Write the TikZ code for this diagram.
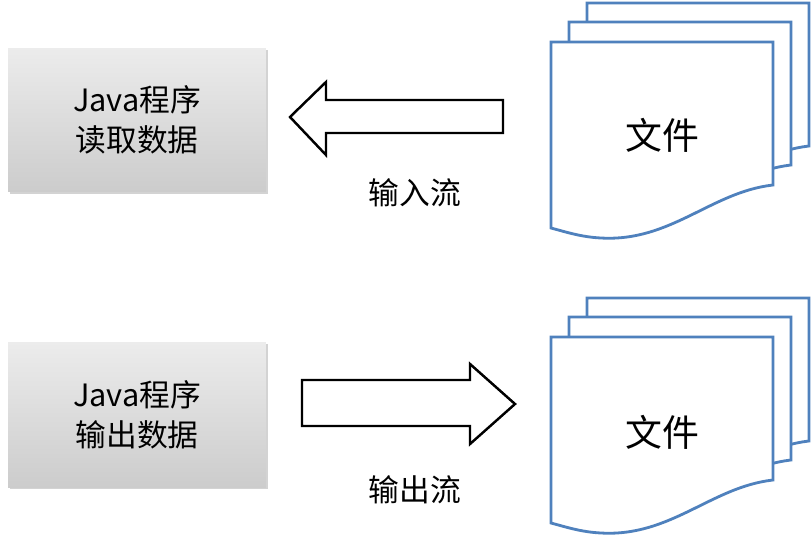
\documentclass[tikz,border=0pt]{standalone}
\usepackage{fontspec}
\setmainfont{Noto Sans CJK SC}
\usetikzlibrary{shadows}
\definecolor{docblue}{RGB}{79,129,189}
\begin{document}
\begin{tikzpicture}[x=0.02cm,y=-0.02cm,
  box/.style={draw=none,top color=gray!15,bottom color=gray!40,drop shadow={opacity=0.35,shadow xshift=1pt,shadow yshift=-1pt}},
  lbl/.style={font=\fontsize{17.5}{23}\selectfont},
  doctxt/.style={font=\fontsize{21}{24}\selectfont},
  page/.style={draw=docblue,line width=1.6pt,fill=white},
  arr/.style={draw=black,line width=1.4pt,fill=white}]
\useasboundingbox (0,0) rectangle (812,535);
\newcommand{\docpage}[2]{%
  \path[page] (#1,#2) -- (#1+222,#2) -- (#1+222,#2+143)
    .. controls (#1+160,#2+150) and (#1+120,#2+200) .. (#1+50,#2+196)
    .. controls (#1+30,#2+195) and (#1+15,#2+190) .. (#1,#2+186) -- cycle;}
\newcommand{\docstack}[2]{%
  \docpage{#1+36}{#2-39}
  \docpage{#1+18}{#2-20}
  \docpage{#1}{#2}}
\node[box,minimum width=5.16cm,minimum height=2.88cm] (p1) at (137,120) {};
\node[lbl,align=center] (t1) at (137,120) {Java程序\\读取数据};
\node[box,minimum width=5.16cm,minimum height=2.9cm] (p2) at (137,415) {};
\node[lbl,align=center] (t2) at (137,415) {Java程序\\输出数据};
\path[arr] (503,100) -- (326,100) -- (326,82) -- (290,117) -- (326,155) -- (326,133) -- (503,133) -- cycle;
\path[arr] (302,380) -- (470,380) -- (470,364) -- (515,404) -- (470,444) -- (470,426) -- (302,426) -- cycle;
\node[lbl] (l1) at (415,193) {输入流};
\node[lbl] (l2) at (415,490) {输出流};
\docstack{551}{42}
\docstack{551}{337}
\node[doctxt] (d1) at (662,135) {文件};
\node[doctxt] (d2) at (662,432) {文件};
\end{tikzpicture}
\end{document}
